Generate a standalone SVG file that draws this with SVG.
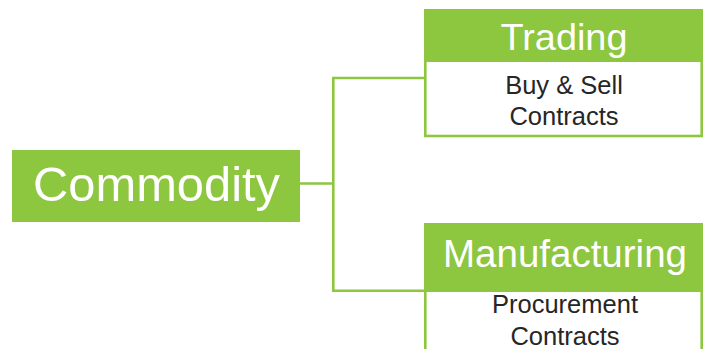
<svg xmlns="http://www.w3.org/2000/svg" width="709" height="349" viewBox="0 0 709 349">
<style>
.hdr{fill:#8DC63F}
.body{fill:#FFFFFF;stroke:#8DC63F;stroke-width:2.6}
.conn{fill:none;stroke:#8DC63F;stroke-width:2.6}
.t{font-family:"Liberation Sans",Arial,sans-serif;text-anchor:middle}
.w{fill:#FFFFFF}
.d{fill:#262626;font-size:25.5px}
</style>
<rect width="709" height="349" fill="#FFFFFF"/>
<g id="connectors">
<path class="conn" d="M300,183.5 H333.3"/>
<path class="conn" d="M425,78 H333.3 V290.7 H425"/>
</g>
<g id="commodity">
<rect class="hdr" x="12" y="150" width="288" height="72"/>
<text class="t w" x="156.5" y="201" font-size="48" textLength="247" lengthAdjust="spacingAndGlyphs">Commodity</text>
</g>
<g id="trading">
<rect class="body" x="425.3" y="10.3" width="276.4" height="125.7"/>
<path class="hdr" d="M424,62 V11 Q424,9 426,9 H701 Q703,9 703,11 V62 Z"/>
<text class="t w" x="564" y="50" font-size="37.5" textLength="127" lengthAdjust="spacingAndGlyphs">Trading</text>
<text class="t d" x="564" y="94">Buy &amp; Sell</text>
<text class="t d" x="564" y="125">Contracts</text>
</g>
<g id="manufacturing">
<rect class="body" x="425.3" y="224.3" width="276.4" height="140"/>
<path class="hdr" d="M424,292 V225 Q424,223 426,223 H701 Q703,223 703,225 V292 Z"/>
<text class="t w" x="565" y="266.5" font-size="38" textLength="244" lengthAdjust="spacingAndGlyphs">Manufacturing</text>
<text class="t d" x="565" y="313">Procurement</text>
<text class="t d" x="565" y="344.5">Contracts</text>
</g>
</svg>
